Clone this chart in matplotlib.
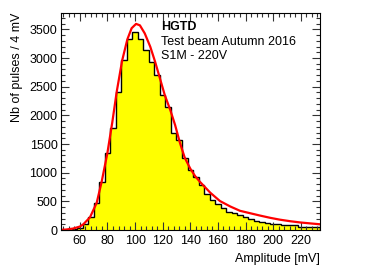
import numpy as np
import matplotlib
matplotlib.use("Agg")
import matplotlib.pyplot as plt
from matplotlib.ticker import MultipleLocator

plt.rcParams['font.family'] = ['Liberation Sans', 'DejaVu Sans']

# histogram: 4 mV bins from 46 to 234 mV
bin_edges = np.arange(46, 238, 4)
counts = [2, 5, 12, 35,
          100, 220, 475, 843, 1337, 1773, 2412, 2965, 3325, 3458,
          3325, 3139, 2935, 2703, 2354, 2150, 1686, 1570, 1250, 1046,
          930, 785, 620, 530, 450, 380, 320, 291, 255, 228,
          185, 150, 142, 120, 112, 100, 92, 87, 95, 60,
          58, 58, 52]

# fitted curve
fit_x = [46, 50, 55, 60, 62.5, 67.3, 72.2, 75.8, 79.9, 83.5, 86.7, 90.6,
         94.4, 97.5, 100.7, 103.5, 107, 111, 114.5, 118, 121.5, 125.5, 129,
         132.5, 136, 140, 143.5, 147, 154.5, 161.5, 169, 176, 183.5, 190.5,
         198, 205, 212.5, 219.5, 227, 234]
fit_y = [3, 8, 25, 60, 100, 220, 475, 843, 1337, 1880, 2412, 2953,
         3325, 3520, 3595, 3570, 3430, 3197, 2935, 2645, 2354, 2093, 1831,
         1520, 1260, 1070, 940, 840, 650, 505, 410, 335, 292, 252,
         212, 180, 153, 132, 115, 100]

fig = plt.figure(figsize=(3.81, 2.75), dpi=100)
ax = fig.add_axes([0.160, 0.1636, 0.680, 0.7891])

ax.stairs(counts, bin_edges, fill=True, color='#ffff00', lw=0)
ax.stairs(counts, bin_edges, color='black', lw=1.0)
ax.plot(fit_x, fit_y, color='#ff0000', lw=1.6)

ax.set_xlim(46.3, 234)
ax.set_ylim(0, 3785)

ax.xaxis.set_major_locator(MultipleLocator(20))
ax.xaxis.set_minor_locator(MultipleLocator(4))
ax.yaxis.set_major_locator(MultipleLocator(500))
ax.yaxis.set_minor_locator(MultipleLocator(100))
ax.tick_params(which='both', direction='in', top=True, right=True, width=0.8,
               labelsize=9, color='#333333')
ax.tick_params(which='major', length=6)
ax.tick_params(which='minor', length=3)
ax.tick_params(axis='y', pad=2.5)
ax.tick_params(axis='x', pad=3.5)
for s in ax.spines.values():
    s.set_linewidth(0.8)

ax.set_xlabel('Amplitude [mV]', fontsize=9, loc='right')
ax.xaxis.set_label_coords(1.0, -0.105)
ax.set_ylabel('Nb of pulses / 4 mV', fontsize=9, loc='top')
ax.yaxis.set_label_coords(-0.145, 1.0)

ax.text(0.386, 0.921, 'HGTD', transform=ax.transAxes, fontsize=9,
        fontweight='bold', va='baseline')
ax.text(0.386, 0.853, 'Test beam Autumn 2016', transform=ax.transAxes,
        fontsize=9, va='baseline')
ax.text(0.386, 0.788, 'S1M - 220V', transform=ax.transAxes, fontsize=9,
        va='baseline')

fig.savefig('out.png', dpi=100)
